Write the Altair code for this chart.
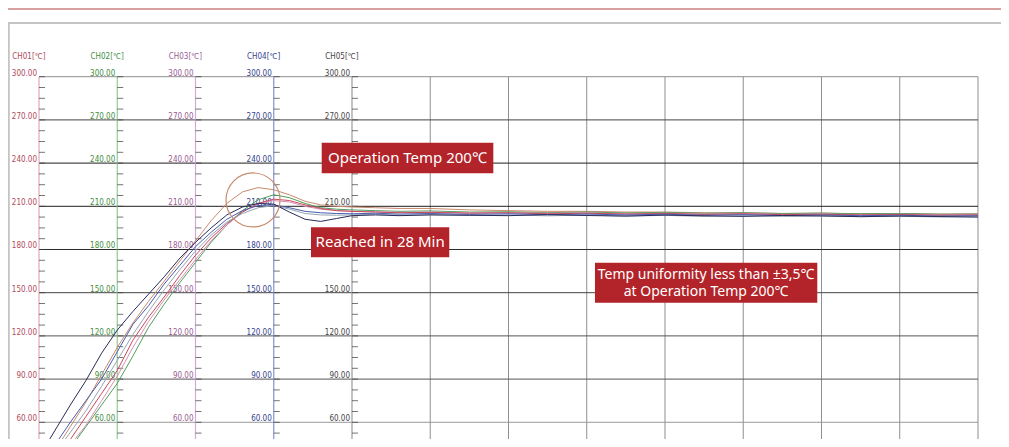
import altair as alt
import pandas as pd

# ---------------- data ----------------
# time in minutes (each vertical grid interval = 10 min)
T = [0, 2, 4, 6, 8, 10, 12, 14, 16, 18, 20, 22, 24, 26, 28, 30, 32, 34, 36, 38, 40,
     43, 46, 50, 55, 60, 65, 70, 75, 80, 85, 90, 95, 100, 105, 110, 115, 120]

orange = [30, 40, 57, 74, 93, 112, 129, 144, 158, 172, 186, 200, 212, 220, 223, 221.5, 218, 213.5, 211, 210, 209.5,
          209, 208.5, 208.5, 207.5, 207, 206.5, 206.5, 206, 206, 205.5, 205.5, 205, 205.2, 204.8, 205, 204.6, 204.8]
green = [15, 28, 42, 57, 72, 87, 106, 126, 142, 157, 171, 185, 197, 207, 214.5, 218, 216, 212, 209, 208, 207.5,
         207, 206.5, 206.8, 206, 206.2, 205.6, 206, 205.4, 205.8, 205.2, 205.5, 205.0, 205.3, 204.8, 205.0, 204.5, 204.6]
pink = [18, 30, 44, 58, 75, 92, 112, 130, 145, 159, 173, 186, 197, 206, 212, 214, 213, 210, 208, 207, 206.5,
        206.2, 205.8, 206, 205.5, 205.6, 205.2, 205.4, 204.8, 205.2, 204.6, 205.0, 204.4, 204.7, 204.2, 204.5, 204.0, 204.2]
red = [20, 33, 48, 64, 80, 96, 117, 133, 147, 162, 176, 188, 198, 206, 212, 215, 214, 211, 208.5, 207, 206.5,
       206, 205.5, 205.8, 205.2, 205.5, 204.8, 205.2, 204.6, 205.0, 204.4, 204.8, 204.2, 204.5, 204.0, 204.3, 203.8, 204.0]
gray = [24, 38, 53, 68, 85, 103, 121, 137, 152, 166, 179, 190, 199, 205, 209, 210.5, 208, 205, 204, 203.8, 204,
        204.5, 203.8, 204.2, 203.6, 204.0, 203.4, 203.9, 203.2, 203.7, 203.0, 203.5, 203.0, 203.3, 202.8, 203.1, 202.6, 202.8]
blue = [28, 44, 60, 75, 90, 109, 128, 141, 156, 169, 182, 192, 201, 207, 210.5, 211, 209, 206.5, 205.5, 205, 204.8,
        205.2, 204.6, 205, 204.4, 204.8, 204.2, 204.6, 204.0, 204.5, 203.8, 204.2, 203.6, 204.0, 203.5, 203.8, 203.2, 203.5]
navy = [36, 54, 72, 89, 108, 124, 137, 149, 161, 174, 185, 195, 204, 209.5, 212, 211.5, 206, 201, 199.5, 201.5, 203.5,
        204, 203.5, 204, 203.8, 203.5, 204.2, 203.6, 203.2, 203.9, 203.4, 203.0, 203.6, 203.3, 202.8, 203.2, 202.9, 202.5]

SERIES_NAMES = ["S1", "S2", "S3", "S4", "S5", "S6", "S7"]
SERIES_VALUES = [orange, green, pink, red, gray, blue, navy]
SERIES_COLORS = ["#c98a6c", "#4f9f5c", "#d890b4", "#c84a5a", "#93a6b4", "#4a5cae", "#2a2c5c"]

AXIS_TITLES = ["CH01[℃]", "CH02[℃]", "CH03[℃]", "CH04[℃]", "CH05[℃]"]
AXIS_TIMES = [0, 10, 20, 30, 40]
AXIS_TEXT_COLORS = ["#b04a5c", "#3f8d3f", "#9a5c92", "#34428e", "#454545"]
AXIS_LINE_COLORS = ["#e0a9b2", "#94c894", "#d4aad4", "#8a92c8", "#9a9a9a"]

MAJOR = [60, 90, 120, 150, 180, 210, 240, 270, 300]
MAJOR_COLORS = ["#9a9a9a", "#555555", "#555555", "#444444", "#2a2a2a", "#1e1e1e", "#1e1e1e", "#444444", "#8f8f8f"]
MINOR = [52.5 + 7.5 * i for i in range(34)]
GRID_TIMES = [50, 60, 70, 80, 90, 100, 110, 120]

NOTES = ["Operation Temp 200℃", "Reached in 28 Min"]
NOTE3 = ["Temp uniformity less than ±3,5℃", "at Operation Temp 200℃"]

# ---------------- layout ----------------
W, H = 993, 431
X_DOMAIN = [-3.962, 122.94]
Y_DOMAIN = [48.4, 347.71]
xs = alt.Scale(domain=X_DOMAIN, nice=False, zero=False)
ys = alt.Scale(domain=Y_DOMAIN, nice=False, zero=False)
BOTTOM = Y_DOMAIN[0]
LABEL_FONT = "Liberation Sans Narrow, DejaVu Sans Condensed, sans-serif"
NOTE_FONT = "Noto Sans, Noto Sans CJK KR, sans-serif"
BOX_RED = "#b3242a"


def X(f="t"):
    return alt.X(f"{f}:Q", scale=xs, axis=None)


def Y(f="v"):
    return alt.Y(f"{f}:Q", scale=ys, axis=None)


# header lines
hdr = pd.DataFrame({"v": [347.0], "c": ["#d9a0a0"]})
header_red = alt.Chart(hdr).mark_rule(strokeWidth=2).encode(y=Y(), color=alt.Color("c:N", scale=None))
hdr2 = pd.DataFrame({"v": [337.3], "c": ["#c4c4c4"]})
header_gray = alt.Chart(hdr2).mark_rule(strokeWidth=2).encode(y=Y(), color=alt.Color("c:N", scale=None))
frame_df = pd.DataFrame({"t": [X_DOMAIN[0] + 0.1], "top": [337.3], "bot": [BOTTOM]})
frame_left = alt.Chart(frame_df).mark_rule(strokeWidth=2, color="#c4c4c4").encode(
    x=X(), y=Y("top"), y2="bot:Q")

# vertical grid
vg = pd.DataFrame({"t": GRID_TIMES, "top": 300, "bot": BOTTOM})
vgrid = alt.Chart(vg).mark_rule(strokeWidth=1, color="#8f8f8f").encode(x=X(), y=Y("top"), y2="bot:Q")

# horizontal grid
hg = pd.DataFrame({"v": MAJOR, "x0": 0, "x1": 120, "c": MAJOR_COLORS})
hgrid = alt.Chart(hg).mark_rule(strokeWidth=1).encode(
    y=Y(), x=X("x0"), x2="x1:Q", color=alt.Color("c:N", scale=None))

# channel axis lines
al = pd.DataFrame({"t": AXIS_TIMES, "top": 300, "bot": BOTTOM, "c": AXIS_LINE_COLORS})
axis_lines = alt.Chart(al).mark_rule(strokeWidth=1.2).encode(
    x=X(), y=Y("top"), y2="bot:Q", color=alt.Color("c:N", scale=None))

# ticks
tk = pd.DataFrame([{"t": t, "v": v} for t in AXIS_TIMES for v in MINOR])
ticks = alt.Chart(tk).mark_tick(orient="horizontal", size=6, thickness=1, xOffset=3, color="#3a3a3a").encode(
    x=X(), y=Y())

# labels
lb = pd.DataFrame([{"t": t, "v": v, "txt": f"{v:.2f}", "c": c}
                   for t, c in zip(AXIS_TIMES, AXIS_TEXT_COLORS) for v in MAJOR])
labels = alt.Chart(lb).mark_text(align="right", baseline="alphabetic", dx=-2, dy=-1, fontSize=8,
                                 font=LABEL_FONT).encode(
    x=X(), y=Y(), text="txt:N", color=alt.Color("c:N", scale=None))

# axis titles
tt = pd.DataFrame({"t": AXIS_TIMES, "v": 300, "txt": AXIS_TITLES, "c": AXIS_TEXT_COLORS})
titles = alt.Chart(tt).mark_text(align="center", baseline="middle", dx=-10, dy=-20, fontSize=8,
                                 font=LABEL_FONT).encode(
    x=X(), y=Y(), text="txt:N", color=alt.Color("c:N", scale=None))

# curves
rows = []
for name, vals in zip(SERIES_NAMES, SERIES_VALUES):
    for t, v in zip(T, vals):
        rows.append({"s": name, "t": t, "v": v})
curves_df = pd.DataFrame(rows)
curves = alt.Chart(curves_df).mark_line(strokeWidth=1, clip=True, interpolate="linear").encode(
    x=X(), y=Y(),
    color=alt.Color("s:N", scale=alt.Scale(domain=SERIES_NAMES, range=SERIES_COLORS), legend=None),
    order="t:Q")

# highlight circle
circ_df = pd.DataFrame({"t": [27.35], "v": [214.4]})
circle = alt.Chart(circ_df).mark_point(shape="circle", filled=False, strokeWidth=1.2, color="#c98a6c",
                                       opacity=1).encode(x=X(), y=Y(), size=alt.value(2916))

# annotation boxes
boxes_df = pd.DataFrame({
    "t0": [36.13, 34.76, 71.05], "t1": [58.06, 52.43, 99.46],
    "v0": [232.9, 174.6, 143.1], "v1": [254.2, 195.4, 170.8]})
boxes = alt.Chart(boxes_df).mark_rect(color=BOX_RED).encode(
    x=X("t0"), x2="t1:Q", y=Y("v0"), y2="v1:Q")

note_df = pd.DataFrame({"t": [47.09, 43.6], "v": [243.5, 185.0], "txt": NOTES})
notes = alt.Chart(note_df).mark_text(color="white", fontSize=15, font=NOTE_FONT, baseline="middle",
                                     align="center").encode(x=X(), y=Y(), text="txt:N")
note3_df = pd.DataFrame({"t": [85.25, 85.25], "v": [162.3, 150.7], "txt": NOTE3})
notes3 = alt.Chart(note3_df).mark_text(color="white", fontSize=14, font=NOTE_FONT, baseline="middle",
                                       align="center").encode(x=X(), y=Y(), text="txt:N")

chart = alt.layer(
    header_red, header_gray, frame_left, vgrid, hgrid, axis_lines, ticks, labels, titles,
    curves, circle, boxes, notes, notes3
).properties(
    width=W, height=H, padding=0, autosize=alt.AutoSizeParams(type="none"), background="white"
).configure_view(stroke=None)

chart.save("out.html", embed_options={"renderer": "svg", "actions": False})
